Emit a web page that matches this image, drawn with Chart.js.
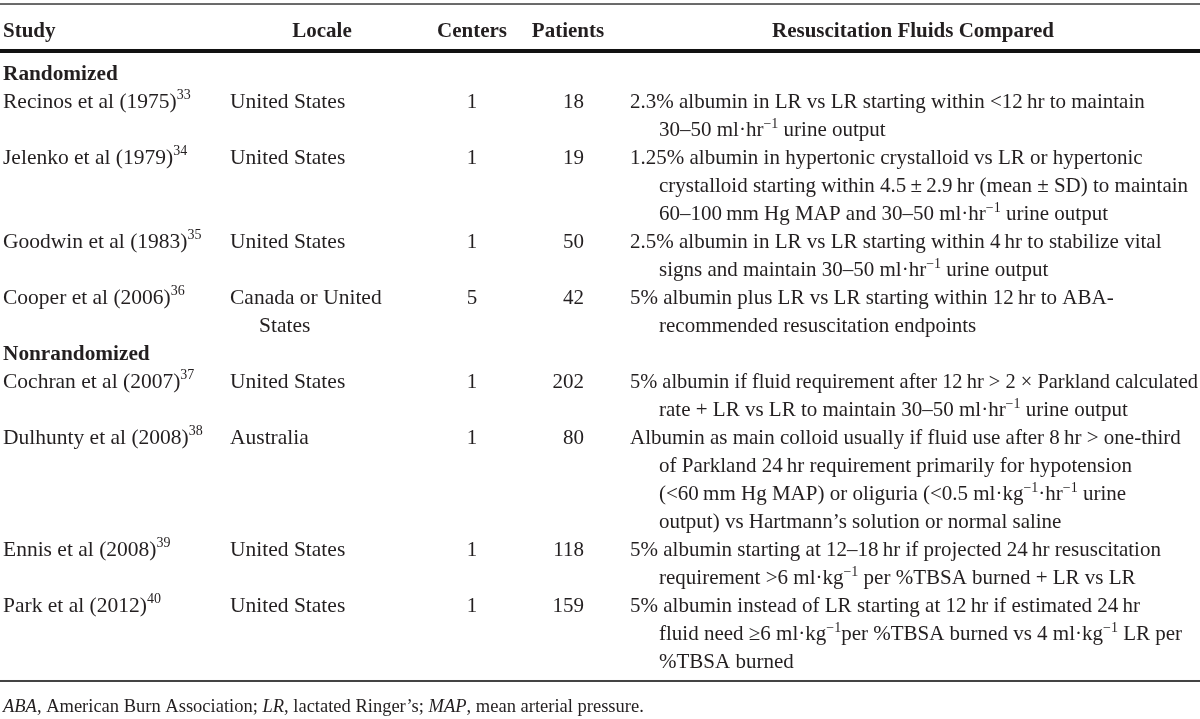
<!DOCTYPE html>
<html>
<head>
<meta charset="utf-8">
<script src="https://cdn.jsdelivr.net/npm/chart.js@4.4.0/dist/chart.umd.min.js"></script>
<style>
  html, body { margin: 0; padding: 0; background: #fff; }
  #wrap { width: 1200px; height: 719px; position: relative; }
</style>
</head>
<body>
<div id="wrap"><canvas id="tableChart"></canvas></div>
<script>
const headers = ["Study", "Locale", "Centers", "Patients", "Resuscitation Fluids Compared"];
const groups = ["Randomized", "Nonrandomized"];
const studyGroup = [0, 0, 0, 0, 1, 1, 1, 1];
const studies = [
  "Recinos et al (1975)", "Jelenko et al (1979)", "Goodwin et al (1983)", "Cooper et al (2006)",
  "Cochran et al (2007)", "Dulhunty et al (2008)", "Ennis et al (2008)", "Park et al (2012)"
];
const refs = ["33", "34", "35", "36", "37", "38", "39", "40"];
const locales = [
  ["United States"], ["United States"], ["United States"], ["Canada or United", "States"],
  ["United States"], ["Australia"], ["United States"], ["United States"]
];
const centers = [1, 1, 1, 5, 1, 1, 1, 1];
const patients = [18, 19, 50, 42, 202, 80, 118, 159];
const fluids = [
  ["2.3% albumin in LR vs LR starting within <12\u2009hr to maintain",
   "30\u201350 ml\u00b7hr^{\u22121} urine output"],
  ["1.25% albumin in hypertonic crystalloid vs LR or hypertonic",
   "crystalloid starting within 4.5\u2009\u00b1\u20092.9\u2009hr (mean \u00b1 SD) to maintain",
   "60\u2013100\u2009mm Hg MAP and 30\u201350 ml\u00b7hr^{\u22121} urine output"],
  ["2.5% albumin in LR vs LR starting within 4\u2009hr to stabilize vital",
   "signs and maintain 30\u201350 ml\u00b7hr^{\u22121} urine output"],
  ["5% albumin plus LR vs LR starting within 12\u2009hr to ABA-",
   "recommended resuscitation endpoints"],
  ["5% albumin if fluid requirement after 12\u2009hr > 2 \u00d7 Parkland calculated",
   "rate + LR vs LR to maintain 30\u201350 ml\u00b7hr^{\u22121} urine output"],
  ["Albumin as main colloid usually if fluid use after 8\u2009hr > one-third",
   "of Parkland 24\u2009hr requirement primarily for hypotension",
   "(<60\u2009mm Hg MAP) or oliguria (<0.5 ml\u00b7kg^{\u22121}\u00b7hr^{\u22121} urine",
   "output) vs Hartmann\u2019s solution or normal saline"],
  ["5% albumin starting at 12\u201318\u2009hr if projected 24\u2009hr resuscitation",
   "requirement >6 ml\u00b7kg^{\u22121} per %TBSA burned + LR vs LR"],
  ["5% albumin instead of LR starting at 12\u2009hr if estimated 24\u2009hr",
   "fluid need \u22656 ml\u00b7kg^{\u22121}per %TBSA burned vs 4 ml\u00b7kg^{\u22121} LR per",
   "%TBSA burned"]
];
const footAbbr = ["ABA", "LR", "MAP"];
const footText = [", American Burn Association; ", ", lactated Ringer\u2019s; ", ", mean arterial pressure."];

// layout (pixels / line units), not data
const colX = { study: 3, locale: 230, centers: 472, patients: 584, fluids: 630 };
const headX = [3, 322, 472, 568, 913];
const headAlign = ["left", "center", "center", "center", "center"];
const hang = 29;
const rightLimit = 1198;
const FONT = "'Liberation Serif', 'Times New Roman', serif";
const INK = "#231f20";

// work out which line each row starts on
const groupLine = [];
const rowLine = [];
let line = 0;
studies.forEach((s, i) => {
  if (i === 0 || studyGroup[i] !== studyGroup[i - 1]) {
    groupLine.push(line);
    line += 1;
  }
  rowLine.push(line);
  line += Math.max(locales[i].length, fluids[i].length);
});

function pts(x) {
  return studies.map((s, i) => ({ x: x, y: rowLine[i] }));
}

function drawRich(ctx, str, x, y, align, size) {
  const parts = str.split(/\^\{([^}]*)\}/);
  const supSize = Math.round(size * 0.65);
  let total = 0;
  parts.forEach((p, k) => {
    ctx.font = (k % 2 ? supSize : size) + "px " + FONT;
    total += ctx.measureText(p).width;
  });
  let cx = x;
  if (align === "right") cx = x - total;
  if (align === "center") cx = x - total / 2;
  // squeeze a line that would run past the right edge
  const k0 = cx + total > rightLimit ? (rightLimit - cx) / total : 1;
  ctx.save();
  ctx.translate(cx, y);
  ctx.scale(k0, 1);
  ctx.textAlign = "left";
  let ox = 0;
  parts.forEach((p, k) => {
    const sup = k % 2 === 1;
    ctx.font = (sup ? supSize : size) + "px " + FONT;
    ctx.fillText(p, ox, sup ? -size * 0.4 : 0);
    ox += ctx.measureText(p).width;
  });
  ctx.restore();
}

const tablePlugin = {
  id: "tablePlugin",
  afterDatasetsDraw(chart) {
    const ctx = chart.ctx;
    const xs = chart.scales.x;
    const ys = chart.scales.y;
    const base = 7; // baseline offset from line middle
    ctx.save();
    ctx.textBaseline = "alphabetic";

    // rules
    ctx.fillStyle = "#3a3a3a";
    ctx.fillRect(xs.left, ys.getPixelForValue(-2.464) - 0.75, xs.width, 1.5);
    ctx.fillStyle = "#111";
    ctx.fillRect(xs.left, ys.getPixelForValue(-0.786) - 2, xs.width, 4);
    ctx.fillStyle = "#444";
    ctx.fillRect(xs.left, ys.getPixelForValue(21.714) - 1, xs.width, 2);
    ctx.fillStyle = INK;

    // header
    ctx.font = "bold 21px " + FONT;
    headers.forEach((h, i) => {
      ctx.textAlign = headAlign[i];
      ctx.fillText(h, xs.getPixelForValue(headX[i]), ys.getPixelForValue(-1.536) + base);
    });

    // group labels
    ctx.textAlign = "left";
    ctx.font = "bold 21.3px " + FONT;
    groups.forEach((g, i) => {
      ctx.fillText(g, xs.getPixelForValue(colX.study), ys.getPixelForValue(groupLine[i]) + base);
    });

    // cells, placed at the dataset points
    chart.data.datasets.forEach((ds, di) => {
      const meta = chart.getDatasetMeta(di);
      meta.data.forEach((el, i) => {
        const y0 = el.y + base;
        const step = ys.getPixelForValue(rowLine[i] + 1) - ys.getPixelForValue(rowLine[i]);
        if (ds.label === "study") {
          drawRich(ctx, studies[i] + "^{" + refs[i] + "}", el.x, y0, "left", 21.5);
        } else if (ds.label === "locale") {
          locales[i].forEach((t, k) => drawRich(ctx, t, el.x + (k ? hang : 0), y0 + k * step, "left", 21.5));
        } else if (ds.label === "centers") {
          drawRich(ctx, String(centers[i]), el.x, y0, "center", 21);
        } else if (ds.label === "patients") {
          drawRich(ctx, String(patients[i]), el.x, y0, "right", 21);
        } else if (ds.label === "fluids") {
          fluids[i].forEach((t, k) => drawRich(ctx, t, el.x + (k ? hang : 0), y0 + k * step, "left", 21));
        }
      });
    });

    // footnote
    let fx = xs.getPixelForValue(colX.study);
    const fy = ys.getPixelForValue(22.607) + 6;
    ctx.textAlign = "left";
    footAbbr.forEach((a, i) => {
      ctx.font = "italic 18.5px " + FONT;
      ctx.fillText(a, fx, fy);
      fx += ctx.measureText(a).width;
      ctx.font = "18.5px " + FONT;
      ctx.fillText(footText[i], fx, fy);
      fx += ctx.measureText(footText[i]).width;
    });
    ctx.restore();
  }
};

new Chart(document.getElementById("tableChart"), {
  type: "scatter",
  data: {
    datasets: [
      { label: "study", data: pts(colX.study) },
      { label: "locale", data: pts(colX.locale) },
      { label: "centers", data: pts(colX.centers) },
      { label: "patients", data: pts(colX.patients) },
      { label: "fluids", data: pts(colX.fluids) }
    ]
  },
  options: {
    responsive: true,
    maintainAspectRatio: false,
    animation: false,
    events: [],
    layout: { padding: 0 },
    elements: { point: { radius: 0, hoverRadius: 0 } },
    plugins: { legend: { display: false }, tooltip: { enabled: false } },
    scales: {
      x: { type: "linear", min: 0, max: 1200, display: false },
      y: { type: "linear", reverse: true, min: -73 / 28, max: (719 - 73) / 28, display: false }
    }
  },
  plugins: [tablePlugin]
});
</script>
</body>
</html>
